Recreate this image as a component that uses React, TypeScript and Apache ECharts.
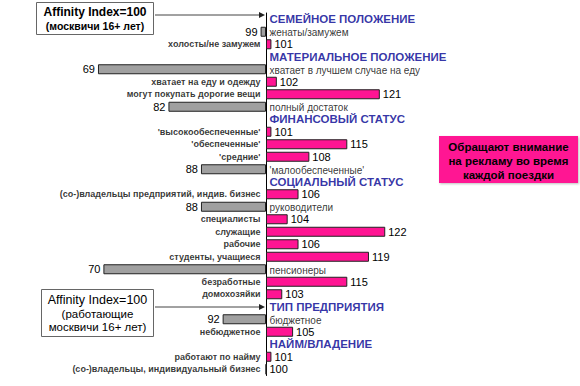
import React, { useEffect, useRef } from "react";
import * as echarts from "echarts";

const categories: string[] = [
  "СЕМЕЙНОЕ ПОЛОЖЕНИЕ",
  "женаты/замужем",
  "холосты/не замужем",
  "МАТЕРИАЛЬНОЕ ПОЛОЖЕНИЕ",
  "хватает в лучшем случае на еду",
  "хватает на еду и одежду",
  "могут покупать дорогие вещи",
  "полный достаток",
  "ФИНАНСОВЫЙ СТАТУС",
  "'высокообеспеченные'",
  "'обеспеченные'",
  "'средние'",
  "'малообеспеченные'",
  "СОЦИАЛЬНЫЙ СТАТУС",
  "(со-)владельцы предприятий, индив. бизнес",
  "руководители",
  "специалисты",
  "служащие",
  "рабочие",
  "студенты, учащиеся",
  "пенсионеры",
  "безработные",
  "домохозяйки",
  "ТИП ПРЕДПРИЯТИЯ",
  "бюджетное",
  "небюджетное",
  "НАЙМ/ВЛАДЕНИЕ",
  "работают по найму",
  "(со-)владельцы, индивидуальный бизнес",
];

// null = section header row
const affinity: (number | null)[] = [
  null, 99, 101,
  null, 69, 102, 121, 82,
  null, 101, 115, 108, 88,
  null, 106, 88, 104, 122, 106, 119, 70, 115, 103,
  null, 92, 105,
  null, 101, 100,
];

const baseIndex = 100;

const boxTopLines = ["Affinity Index=100", "(москвичи 16+ лет)"];
const boxBottomLines = ["Affinity Index=100", "(работающие", "москвичи 16+ лет)"];
const calloutLines = ["Обращают внимание", "на рекламу во время", "каждой поездки"];

const PINK = "#ff1493";
const GREY = "#a0a0a0";
const BLUE = "#000090";
const FONT = "'Liberation Sans', Arial, sans-serif";

export default function App() {
  const ref = useRef<HTMLDivElement>(null);

  useEffect(() => {
    document.body.style.margin = "0";
    if (!ref.current) return;
    const chart = echarts.init(ref.current, undefined, { renderer: "svg" });

    const barData = affinity.map((v) => {
      if (v == null) return "-";
      const low = v < baseIndex;
      return {
        value: v - baseIndex,
        itemStyle: { color: low ? GREY : PINK },
        label: { position: low ? "left" : "right" },
      };
    });

    const labelData = categories.map((c, i) => {
      const v = affinity[i];
      let label: any;
      if (v == null) {
        label = {
          position: "right",
          distance: 3,
          color: BLUE,
          fontSize: 11.5,
          fontWeight: "bold",
        };
      } else if (v < baseIndex) {
        label = {
          position: "right",
          distance: 3,
          color: "#000",
          fontSize: 10,
          fontWeight: "normal",
          offset: [0, 1],
        };
      } else {
        label = {
          position: "left",
          distance: 5,
          color: "#000",
          fontSize: 9,
          fontWeight: "bold",
        };
      }
      return { value: [0, i], label };
    });

    const arrow = (y: number) => [
      {
        type: "line",
        shape: { x1: 155, y1: y, x2: 260, y2: y },
        style: { stroke: "#444", lineWidth: 1 },
      },
      {
        type: "polygon",
        shape: { points: [[259, y - 3], [265, y], [259, y + 3]] },
        style: { fill: "#222" },
      },
    ];

    chart.setOption({
      animation: false,
      textStyle: { fontFamily: FONT },
      grid: { left: 49.2, right: 97.2, top: 13, bottom: 10.5 },
      xAxis: {
        type: "value",
        min: -40,
        max: 40,
        show: false,
        splitLine: { show: false },
      },
      yAxis: {
        type: "category",
        data: categories,
        inverse: true,
        axisLine: { show: true, onZero: true, lineStyle: { color: "#000", width: 1 } },
        axisTick: { show: false },
        axisLabel: { show: false },
        splitLine: { show: false },
      },
      series: [
        {
          type: "bar",
          data: barData,
          barWidth: 10,
          itemStyle: { borderColor: "#222", borderWidth: 1 },
          label: {
            show: true,
            distance: 3,
            color: "#000",
            fontSize: 11,
            fontFamily: FONT,
            formatter: (p: any) => String(affinity[p.dataIndex]),
          },
          z: 2,
        },
        {
          type: "scatter",
          data: labelData,
          symbolSize: 1,
          itemStyle: { color: "rgba(0,0,0,0)" },
          label: {
            show: true,
            fontFamily: FONT,
            formatter: (p: any) => categories[p.dataIndex],
          },
          z: 3,
        },
      ],
      graphic: [
        {
          type: "rect",
          shape: { x: 36.5, y: 2.5, width: 117, height: 32 },
          style: { fill: "#fff", stroke: "#666", lineWidth: 1 },
        },
        {
          type: "text",
          style: {
            x: 95,
            y: 12,
            text: boxTopLines[0],
            align: "center",
            verticalAlign: "middle",
            font: `bold 12px ${FONT}`,
            fill: "#000",
          },
        },
        {
          type: "text",
          style: {
            x: 95,
            y: 25.5,
            text: boxTopLines[1],
            align: "center",
            verticalAlign: "middle",
            font: `bold 10.5px ${FONT}`,
            fill: "#000",
          },
        },
        ...arrow(15),
        {
          type: "rect",
          shape: { x: 41.5, y: 289.5, width: 112, height: 47 },
          style: { fill: "#fff", stroke: "#666", lineWidth: 1 },
        },
        ...boxBottomLines.map((t, i) => ({
          type: "text",
          style: {
            x: 97.5,
            y: 300 + i * 13.5,
            text: t,
            align: "center",
            verticalAlign: "middle",
            font: i === 0 ? `12.5px ${FONT}` : `11.5px ${FONT}`,
            fill: "#000",
          },
        })),
        ...arrow(307),
        {
          type: "rect",
          shape: { x: 439, y: 136, width: 139, height: 47 },
          style: { fill: PINK, shadowColor: "rgba(0,0,0,0.25)", shadowBlur: 2, shadowOffsetX: 1, shadowOffsetY: 1 },
        },
        ...calloutLines.map((t, i) => ({
          type: "text",
          style: {
            x: 508.5,
            y: 146.5 + i * 14,
            text: t,
            align: "center",
            verticalAlign: "middle",
            font: `bold 11.5px ${FONT}`,
            fill: "#000",
          },
        })),
      ],
    });

    return () => chart.dispose();
  }, []);

  return <div ref={ref} style={{ width: 580, height: 386 }} />;
}
